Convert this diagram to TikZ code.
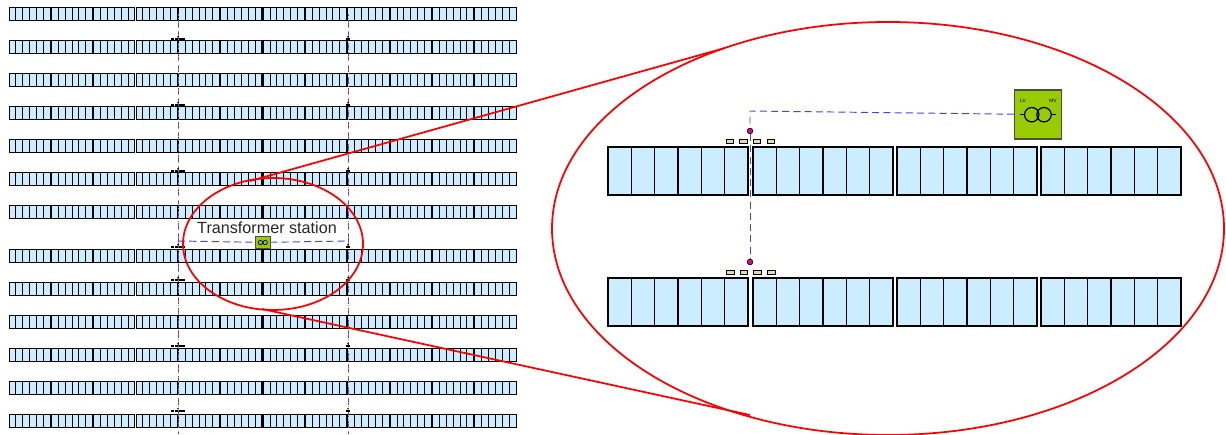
\documentclass[tikz,border=0pt]{standalone}
\usepackage{fontspec}
\setmainfont{Liberation Sans}
\definecolor{cellblue}{HTML}{CCECFF}
\definecolor{stationgreen}{HTML}{99CC00}
\definecolor{boxtan}{HTML}{DDDDB0}
\tikzset{
  cable/.style={blue!75!white,dash pattern=on 4pt off 2.4pt,line width=0.55pt},
  feeder/.style={orange,dotted,line width=0.4pt},
  lens/.style={red,line width=1pt},
  combiner/.style={draw=black,fill=boxtan,line width=0.5pt},
  junction/.style={circle,draw=black,fill=magenta,inner sep=0pt,minimum size=3.2pt,line width=0.4pt}
}
% panel: left, top, width, height, line width
\newcommand{\panel}[5]{%
  \draw[black,fill=cellblue,line width=#5,shift={(#1,#2)},x=#3*0.02cm/6,y=-#4*0.02cm/3,step=1] (0,0) rectangle (6,3) (0,0) grid (6,3);}

\begin{document}
\begin{tikzpicture}[x=0.02cm,y=-0.02cm]
  \useasboundingbox (0,0) rectangle (1226,435);

  % Field of panels
  \foreach \yrow in {14,47,80,113,146,179,212,256,289,322,355,388,421} {
    \foreach \col in {0,...,11} {
      \panel{9+42.35*\col}{\yrow-6.3}{41.2}{12.6}{0.5pt}
    }
  }

  % Feeders
  \coordinate (west) at (178,241);
  \coordinate (east) at (348,241);
  \draw[cable] (west) -- (178,434) (west) -- (178,15);
  \draw[cable] (east) -- (348,434) (east) -- (348,15);
  \draw[feeder] (178,14) -- (178,434);
  \draw[feeder] (348,14) -- (348,434);

  % Combiner boxes
  \foreach \ybox in {39,105,171,247,280,346,411} {
    \foreach \xbox in {173,176.6,180.2,183.8}
      \fill (\xbox-1.6,\ybox-0.9) rectangle +(3,1.8);
    \fill (346,\ybox-0.8) rectangle +(4,1.6);
    \fill (178,\ybox-2.2) circle (0.9) (348,\ybox-2.2) circle (0.9);
  }

  % Station
  \node[draw=black!70,fill=stationgreen,minimum width=14.2*0.02cm,minimum height=12.7*0.02cm,inner sep=0pt,line width=0.4pt] (station) at (262.8,242.4) {};
  \draw[line width=0.4pt] (260.4,242.6) circle (2.2) (265.2,242.6) circle (2.2);
  \draw[cable] (west) -- (station) -- (east);
  \node[font=\fontsize{9.2pt}{11pt}\selectfont,text=black!85] (stationlabel) at (267,228) {Transformer station};

  % Lens
  \draw[lens] (273,244) ellipse (90 and 66);
  \draw[lens] (888,228.5) ellipse (336 and 206.5);
  \draw[lens] (250,181) -- (725,48);
  \draw[lens] (262,309) -- (750,415);

  % Enlarged panels
  \foreach \yrow in {147,278} {
    \foreach \xcol in {608,753,897,1041} {
      \panel{\xcol}{\yrow}{140}{48}{0.8pt}
    }
  }

  % Enlarged cable
  \node[draw=black!70,fill=stationgreen,minimum width=46.5*0.02cm,minimum height=49*0.02cm,inner sep=0pt,line width=0.7pt] (tr) at (1038,114.5) {};
  \draw[line width=0.7pt] (1031.7,114.7) circle (7.2) (1044,114.7) circle (7.2);
  \draw[line width=0.7pt] (1020,114.7) -- (1024.5,114.7) (1051.2,114.7) -- (1056,114.7);
  \node[font=\fontsize{2.8pt}{3pt}\selectfont] (lv) at (1023,101.3) {LV};
  \node[font=\fontsize{2.8pt}{3pt}\selectfont] (mv) at (1053,101.3) {MV};
  \node[junction] (topdot) at (750,131) {};
  \node[junction] (botdot) at (750,262) {};
  \coordinate (corner) at (750,111);
  \draw[cable] (tr) -- (corner) -- (topdot);
  \draw[cable] (topdot) -- (botdot);
  \foreach \xbox in {726,739.5,753,767} {
    \draw[combiner] (\xbox,139.3) rectangle +(7.6,4.2);
    \draw[combiner] (\xbox+0.5,270.3) rectangle +(7.6,4.2);
  }
\end{tikzpicture}
\end{document}
